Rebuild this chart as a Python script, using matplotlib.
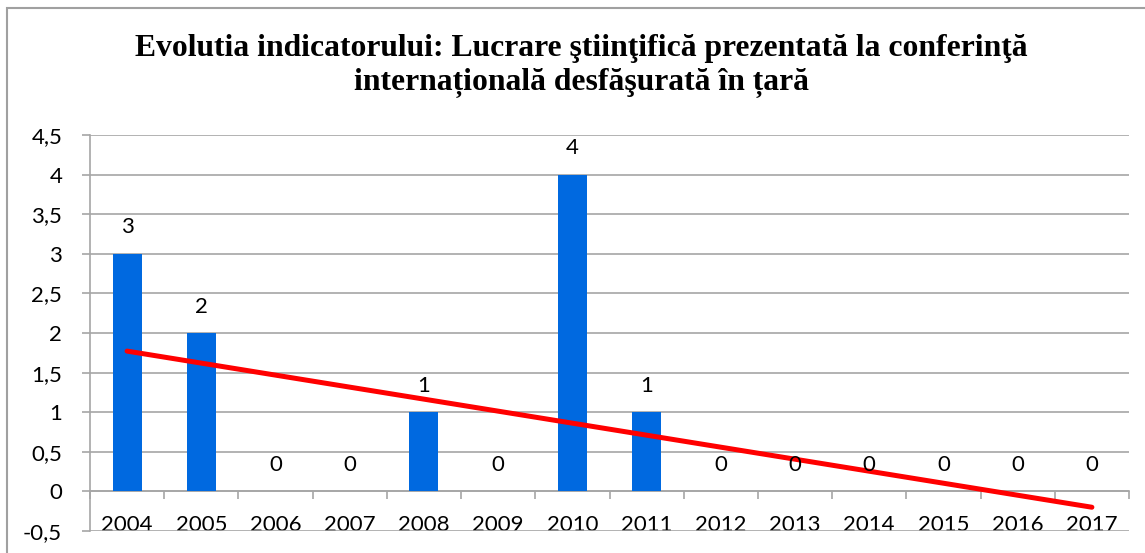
"""Bar chart with linear trend line, Excel style."""
import numpy as np
import matplotlib

matplotlib.use("Agg")
import matplotlib.pyplot as plt
from matplotlib.patches import Rectangle

YEARS = ["2004", "2005", "2006", "2007", "2008", "2009", "2010",
         "2011", "2012", "2013", "2014", "2015", "2016", "2017"]
VALUES = [3, 2, 0, 0, 1, 0, 4, 1, 0, 0, 0, 0, 0, 0]
YTICKS = [-0.5, 0, 0.5, 1, 1.5, 2, 2.5, 3, 3.5, 4, 4.5]
TITLE = ("Evolutia indicatorului: Lucrare ştiinţifică prezentată la conferinţă\n"
         "internațională desfăşurată în țară")

BAR = "#0069E0"
GRID = "#A6A6A6"
SANS = ["Lato", "DejaVu Sans"]

fig = plt.figure(figsize=(11.45, 5.53), dpi=100)
ax = fig.add_axes([90 / 1145, 1 - 531 / 553, (1129 - 90) / 1145, (531 - 135) / 553])

x = np.arange(len(YEARS))
ax.bar(x, VALUES, width=0.39, color=BAR, zorder=3)

# linear trend line over the categories
k, b = np.polyfit(x, VALUES, 1)
ax.plot(x, k * x + b, color="#FF0000", lw=3.6, solid_capstyle="round", zorder=4)

for xi, v in zip(x, VALUES):
    ax.annotate(str(v), (xi, v), xytext=(0, 19), textcoords="offset points",
                ha="center", va="center", fontsize=16, family=SANS, zorder=5)

ax.set_xlim(-0.5, len(YEARS) - 0.5)
ax.set_ylim(-0.5, 4.5)
ax.set_yticks(YTICKS)
ax.set_yticklabels([f"{t:g}".replace(".", ",") for t in YTICKS], family=SANS, fontsize=16)
ax.grid(axis="y", color=GRID, lw=1.2, zorder=0)
ax.tick_params(axis="y", length=6, color=GRID, width=1.2, pad=14)

# category axis sits on y=0, labels below it
for s in ("top", "right"):
    ax.spines[s].set_visible(False)
ax.spines["bottom"].set_position(("data", 0))
ax.spines["bottom"].set_color(GRID)
ax.spines["bottom"].set_linewidth(1.2)
ax.spines["left"].set_color(GRID)
ax.spines["left"].set_linewidth(1.2)
ax.set_xticks(x)
ax.set_xticklabels(YEARS, family=SANS, fontsize=16)
ax.set_xticks(np.arange(len(YEARS) + 1) - 0.5, minor=True)
ax.tick_params(axis="x", which="major", length=0, pad=17)
ax.tick_params(axis="x", which="minor", length=6, color=GRID, width=1.2)

fig.text(581 / 1145, 1 - 66 / 553, TITLE, ha="center", va="center", fontsize=22.8,
         fontweight="bold", family=["Liberation Serif", "DejaVu Serif"], linespacing=1.25)

fig.patches.append(Rectangle((7 / 1145, -0.1), 1.2, 1 - 8 / 553 + 0.1,
                             transform=fig.transFigure, fill=False,
                             edgecolor="#A0A0A0", lw=1.5))

fig.savefig("out.png", dpi=100)
